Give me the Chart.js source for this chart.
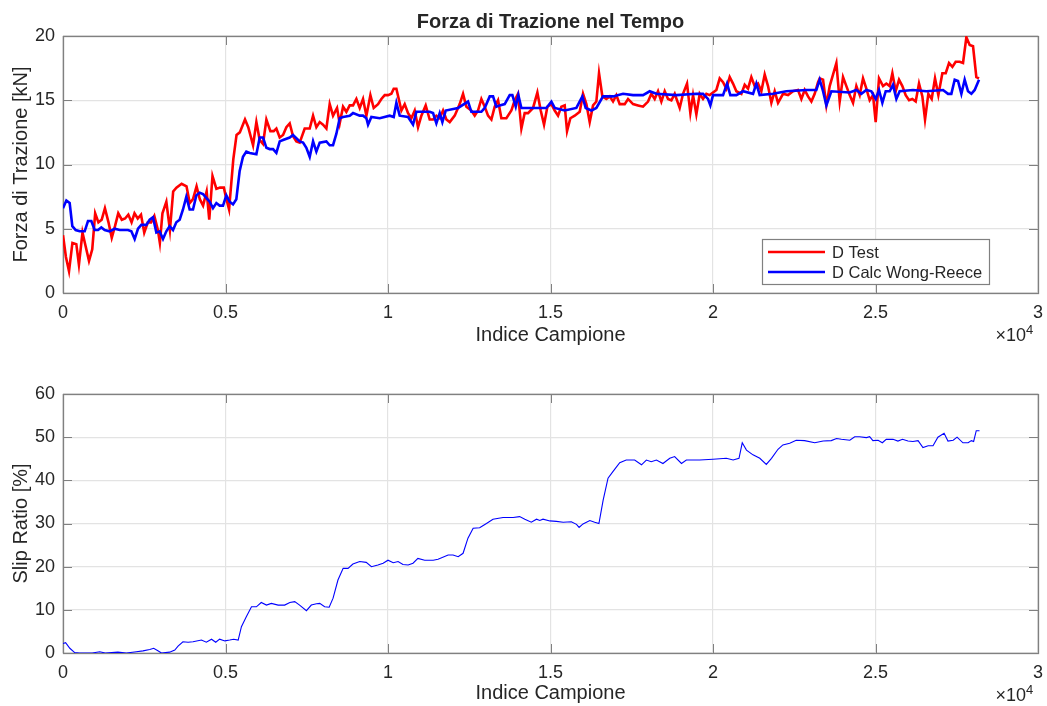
<!DOCTYPE html>
<html>
<head>
<meta charset="utf-8">
<title>Forza di Trazione nel Tempo</title>
<script src="https://cdn.jsdelivr.net/npm/chart.js@4.4.1/dist/chart.umd.min.js"></script>
<style>
  body { margin: 0; background: #fff; }
  #wrap { position: relative; width: 1047px; height: 706px; }
  canvas { position: absolute; left: 0; }
  #forceChart { top: 0; }
  #slipChart { top: 353px; }
</style>
</head>
<body>
<div id="wrap">
  <canvas id="forceChart" width="1047" height="353"></canvas>
  <canvas id="slipChart" width="1047" height="353"></canvas>
</div>
<script>
// --- dati: forza di trazione misurata (D Test) ---
const testSamples = [0, 90, 185, 290, 410, 490, 600, 700, 800, 900, 990, 1090, 1190, 1290, 1400, 1500, 1600, 1700, 1810, 1910,
  2010, 2110, 2200, 2300, 2400, 2500, 2610, 2710, 2810, 2920, 2980, 3060, 3180, 3290, 3390, 3490, 3650, 3800, 3900, 4000,
  4110, 4210, 4310, 4420, 4500, 4600, 4720, 4830, 4950, 5010, 5110, 5240, 5340, 5440, 5600, 5700, 5848, 5950, 6053, 6155,
  6258, 6381, 6483, 6565, 6668, 6771, 6873, 6976, 7078, 7181, 7283, 7437, 7591, 7694, 7796, 7899, 8001, 8104, 8206, 8309,
  8432, 8514, 8617, 8719, 8822, 8924, 9027, 9130, 9232, 9335, 9458, 9560, 9694, 9796, 9899, 10001, 10104, 10176, 10258, 10340,
  10412, 10514, 10617, 10719, 10822, 10924, 11027, 11160, 11283, 11386, 11488, 11591, 11694, 11796, 11899, 12053, 12206, 12309, 12411, 12565,
  12668, 12770, 12873, 12976, 13078, 13181, 13283, 13386, 13488, 13642, 13796, 13899, 14001, 14104, 14206, 14309, 14463, 14596, 14699, 14801,
  14904, 15027, 15129, 15232, 15334, 15437, 15509, 15611, 15745, 15899, 16001, 16104, 16206, 16309, 16411, 16493, 16596, 16719, 16822, 16924,
  17027, 17129, 17283, 17386, 17540, 17693, 17847, 18001, 18104, 18206, 18309, 18411, 18514, 18616, 18719, 18822, 18975, 19078, 19201, 19303,
  19386, 19488, 19591, 19693, 19796, 19898, 20001, 20104, 20206, 20309, 20411, 20514, 20616, 20719, 20873, 20975, 21078, 21180, 21283, 21386,
  21488, 21591, 21693, 21796, 21898, 22001, 22155, 22309, 22462, 22616, 22719, 22821, 22924, 23027, 23129, 23232, 23283, 23386, 23488, 23591,
  23796, 23898, 24001, 24104, 24206, 24309, 24411, 24514, 24616, 24719, 24821, 24924, 25006, 25108, 25232, 25334, 25437, 25519, 25621, 25724,
  25826, 25929, 26032, 26134, 26237, 26339, 26442, 26524, 26626, 26729, 26831, 26934, 27057, 27160, 27262, 27365, 27467, 27590, 27693, 27796,
  27898, 28001, 28103, 28185];
const testForce = [4.5, 2.8, 1.7, 3.9, 3.8, 2.2, 4.7, 3.6, 2.5, 3.4, 6.2, 5.5, 5.7, 6.6, 5.5, 4.3, 5.2, 6.2, 5.7, 5.8,
  6.1, 5.5, 6.2, 5.8, 6.1, 4.7, 5.5, 5.5, 6.0, 4.9, 3.9, 6.2, 7.1, 4.9, 7.9, 8.2, 8.5, 8.3, 7.0, 7.3,
  8.3, 7.3, 6.8, 7.9, 5.7, 9.1, 8.1, 8.2, 8.2, 7.5, 6.5, 10.4, 12.3, 12.5, 13.5, 12.9, 11.5, 13.3, 11.9, 11.6,
  13.5, 12.6, 12.6, 12.8, 12.1, 12.3, 12.9, 13.2, 12.2, 11.8, 11.7, 12.8, 12.8, 13.8, 12.9, 13.3, 13.1, 12.8, 14.7, 13.8,
  14.4, 13.2, 14.5, 14.1, 14.6, 14.6, 15.1, 14.4, 15.1, 13.8, 15.4, 14.4, 14.7, 15.1, 15.4, 15.4, 15.5, 15.9, 15.9, 15.0,
  14.2, 14.7, 14.0, 13.6, 14.2, 12.9, 13.8, 14.6, 13.5, 13.5, 13.8, 13.6, 14.2, 13.5, 13.3, 13.8, 14.7, 15.5, 14.5, 14.2,
  13.8, 14.2, 15.1, 14.5, 13.8, 13.5, 14.5, 15.0, 13.6, 13.6, 14.2, 15.0, 15.5, 12.8, 14.0, 14.0, 14.4, 15.6, 14.2, 13.1,
  14.5, 14.7, 14.2, 13.8, 14.5, 14.6, 12.6, 13.6, 13.8, 14.1, 15.5, 14.7, 13.3, 14.6, 14.9, 17.1, 15.3, 15.1, 15.3, 14.9,
  15.4, 14.7, 14.7, 15.1, 14.7, 14.6, 14.5, 14.9, 15.5, 15.1, 15.7, 14.9, 15.7, 15.1, 15.0, 15.5, 14.4, 15.5, 16.3, 14.0,
  15.4, 13.9, 15.5, 15.1, 15.5, 15.4, 15.6, 15.8, 16.7, 16.4, 15.9, 16.8, 16.3, 15.7, 15.5, 16.2, 15.9, 16.8, 16.1, 16.3,
  15.7, 17.0, 16.1, 14.8, 15.7, 14.8, 15.5, 15.4, 15.7, 15.8, 15.1, 15.8, 15.3, 14.9, 15.5, 16.4, 16.7, 16.6, 14.6, 16.1,
  17.9, 14.9, 16.8, 16.1, 15.4, 14.8, 16.1, 15.4, 16.7, 15.9, 15.0, 15.4, 13.3, 16.7, 16.1, 16.3, 16.1, 17.1, 15.7, 16.6,
  16.1, 15.4, 15.0, 15.1, 14.9, 16.3, 15.3, 13.5, 15.5, 15.1, 16.7, 15.4, 17.1, 17.1, 17.9, 17.6, 18.0, 18.0, 17.9, 19.9,
  19.3, 19.2, 16.8, 16.7];

// --- dati: forza calcolata con Wong-Reece ---
const calcSamples = [0, 103, 205, 287, 390, 513, 667, 769, 872, 974, 1077, 1179, 1282, 1436, 1590, 1744, 1897, 2000, 2103, 2205,
  2308, 2410, 2564, 2667, 2769, 2872, 2974, 3077, 3179, 3282, 3385, 3487, 3590, 3692, 3795, 3897, 4000, 4103, 4205, 4308,
  4410, 4513, 4615, 4718, 4820, 4923, 5026, 5128, 5231, 5333, 5436, 5538, 5641, 5745, 5950, 6053, 6155, 6258, 6360, 6463,
  6565, 6668, 6771, 6976, 7078, 7283, 7386, 7488, 7591, 7694, 7796, 7899, 8104, 8206, 8309, 8412, 8514, 8617, 8822, 8924,
  9130, 9232, 9335, 9386, 9488, 9745, 10053, 10176, 10258, 10360, 10617, 10770, 10873, 11283, 11386, 11488, 11591, 11673, 11776, 12155,
  12463, 12565, 12873, 12976, 13130, 13232, 13334, 13437, 13591, 13745, 13827, 13930, 14011, 14104, 14565, 14873, 15027, 15129, 15437, 15796,
  15980, 16083, 16258, 16411, 16616, 16924, 17232, 17540, 17847, 18052, 18258, 18873, 19488, 19693, 19847, 19919, 20001, 20309, 20432, 20534,
  20719, 20924, 21232, 21334, 21437, 21847, 22257, 22873, 23180, 23283, 23386, 23488, 23642, 24206, 24411, 24565, 24719, 24873, 25006, 25108,
  25211, 25314, 25437, 25539, 25642, 25744, 26155, 26565, 27078, 27232, 27334, 27437, 27539, 27642, 27744, 27847, 27950, 28052, 28185];
const calcForce = [6.6, 7.2, 7.0, 5.2, 4.9, 4.8, 4.8, 5.6, 5.6, 4.9, 4.9, 5.1, 4.9, 4.8, 5.0, 4.9, 4.9, 4.9, 4.8, 4.2,
  5.0, 5.3, 5.3, 5.7, 5.9, 4.7, 4.8, 4.2, 4.8, 5.2, 4.9, 5.5, 5.7, 6.5, 7.5, 6.5, 6.5, 7.6, 7.8, 7.7,
  7.4, 7.1, 6.6, 7.0, 6.8, 6.8, 7.6, 7.1, 6.9, 7.3, 9.5, 10.6, 11.0, 10.9, 10.8, 12.1, 12.1, 11.3, 11.2, 11.2,
  10.9, 11.8, 11.9, 12.1, 12.3, 11.8, 11.7, 11.3, 10.6, 11.8, 11.0, 11.7, 11.8, 11.5, 11.5, 12.4, 13.6, 13.7, 13.8, 14.0,
  13.8, 13.8, 13.6, 13.1, 13.7, 13.6, 13.8, 13.7, 14.8, 13.8, 13.7, 13.1, 14.1, 14.1, 14.0, 13.2, 14.0, 13.3, 14.2, 14.4,
  14.9, 14.1, 14.1, 14.4, 15.3, 15.3, 14.5, 14.6, 14.7, 15.4, 15.4, 14.5, 15.4, 14.4, 14.4, 14.4, 14.9, 14.4, 14.2, 14.4,
  15.3, 14.4, 14.2, 14.4, 15.3, 15.3, 15.5, 15.4, 15.4, 15.7, 15.5, 15.4, 15.5, 15.5, 15.1, 14.6, 15.4, 15.4, 16.3, 15.4,
  15.4, 15.7, 15.5, 16.3, 15.4, 15.5, 15.7, 15.8, 15.8, 16.6, 15.7, 14.6, 15.7, 15.6, 15.8, 15.5, 15.8, 15.7, 15.1, 15.8,
  14.8, 15.7, 15.7, 16.2, 15.1, 15.7, 15.8, 15.7, 15.8, 15.5, 15.5, 16.6, 16.5, 15.5, 16.6, 15.7, 15.5, 15.8, 16.6];

// --- dati: slip ratio ---
const slipSamples = [0, 80, 210, 360, 500, 900, 1130, 1300, 1690, 1950, 2260, 2460, 2670, 2790, 2920, 3030, 3280, 3440, 3540, 3690,
  3850, 4000, 4260, 4410, 4570, 4700, 4820, 4980, 5130, 5250, 5390, 5490, 5640, 5800, 5950, 6100, 6260, 6410, 6620, 6820,
  6980, 7130, 7280, 7490, 7640, 7800, 7900, 8050, 8190, 8310, 8460, 8620, 8770, 8920, 9130, 9330, 9490, 9690, 9850, 10000,
  10160, 10310, 10460, 10620, 10770, 10920, 11130, 11390, 11540, 11850, 12000, 12160, 12310, 12460, 12620, 12820, 13030, 13230, 13540, 13850,
  14050, 14210, 14410, 14570, 14670, 14770, 14980, 15180, 15390, 15640, 15800, 15880, 16000, 16210, 16360, 16490, 16620, 16770, 16920, 17130,
  17330, 17590, 17800, 17950, 18100, 18260, 18460, 18670, 18820, 19030, 19180, 19590, 20000, 20410, 20620, 20800, 20900, 21030, 21230, 21440,
  21640, 21800, 22000, 22150, 22360, 22560, 22820, 23130, 23390, 23640, 23800, 23950, 24210, 24360, 24510, 24720, 24820, 24920, 25080, 25210,
  25330, 25540, 25690, 25830, 26000, 26150, 26310, 26460, 26620, 26770, 26920, 27110, 27230, 27390, 27510, 27690, 27850, 27950, 28020, 28100,
  28200];
const slipRatio = [2.2, 2.4, 1.1, 0.1, 0, 0, 0.3, 0, 0.2, 0, 0.3, 0.5, 0.8, 1.1, 0.5, 0, 0.2, 0.7, 1.6, 2.6,
  2.5, 2.6, 3.0, 2.5, 3.2, 2.5, 3.2, 2.8, 3.0, 3.2, 3.0, 6.1, 8.4, 10.7, 10.7, 11.7, 11.1, 11.5, 11.1, 11.1,
  11.7, 11.9, 11.1, 9.8, 11.1, 11.4, 11.5, 10.7, 10.6, 12.7, 16.9, 19.6, 19.6, 20.6, 21.2, 21.0, 20.0, 20.4, 20.8, 21.5,
  20.9, 21.2, 20.5, 20.4, 20.8, 21.9, 21.5, 21.5, 21.7, 22.7, 22.7, 22.3, 23.1, 26.6, 28.9, 29.0, 30.0, 31.0, 31.4, 31.4,
  31.6, 31.0, 30.3, 31.0, 30.7, 31.0, 30.6, 30.5, 30.3, 30.4, 29.8, 29.1, 29.9, 30.7, 30.3, 30.0, 35.4, 40.5, 42.0, 44.1,
  44.7, 44.7, 43.6, 44.7, 44.3, 44.7, 43.9, 45.1, 45.5, 43.9, 44.7, 44.7, 44.9, 45.1, 44.7, 45.1, 48.7, 47.0, 45.9, 45.1,
  43.7, 45.1, 47.2, 48.2, 48.6, 49.3, 49.2, 48.7, 49.1, 49.2, 49.7, 49.5, 49.3, 50.1, 50.1, 49.9, 50.1, 49.2, 49.3, 48.7,
  49.5, 49.5, 49.1, 49.5, 49.1, 49.0, 49.2, 47.6, 48.0, 48.0, 50.0, 50.9, 49.1, 49.3, 50.0, 48.7, 48.7, 49.2, 49.0, 51.5,
  51.5];

// tick degli assi
const xTicks = [0, 5000, 10000, 15000, 20000, 25000, 30000];
const forceTicks = [0, 5, 10, 15, 20];
const slipTicks = [0, 10, 20, 30, 40, 50, 60];

const FONT = '"Liberation Sans", Arial, Helvetica, sans-serif';
const TEXT_COLOR = '#262626';
const AXIS_COLOR = '#808080';
const GRID_COLOR = '#e3e3e3';
const TICK_LEN = 9;

function toPoints(xs, ys) {
  return xs.map((x, i) => ({ x: x, y: ys[i] }));
}

// box, tacche interne, titolo, legenda ed esponente stile MATLAB
const matlabAxes = {
  id: 'matlabAxes',
  beforeDatasetsDraw(chart) {
    const { ctx, chartArea: a, scales: { x, y } } = chart;
    ctx.save();
    ctx.strokeStyle = AXIS_COLOR;
    ctx.lineWidth = 1;
    ctx.beginPath();
    x.ticks.forEach(t => {
      const px = Math.round(x.getPixelForValue(t.value)) + 0.5;
      ctx.moveTo(px, a.bottom); ctx.lineTo(px, a.bottom - TICK_LEN);
      ctx.moveTo(px, a.top); ctx.lineTo(px, a.top + TICK_LEN);
    });
    y.ticks.forEach(t => {
      const py = Math.round(y.getPixelForValue(t.value)) + 0.5;
      ctx.moveTo(a.left, py); ctx.lineTo(a.left + TICK_LEN, py);
      ctx.moveTo(a.right, py); ctx.lineTo(a.right - TICK_LEN, py);
    });
    ctx.stroke();
    ctx.lineWidth = 1.3;
    ctx.strokeRect(a.left + 0.5, a.top + 0.5, a.right - a.left, a.bottom - a.top);
    ctx.restore();
  },
  afterDraw(chart, args, opts) {
    const { ctx, chartArea: a } = chart;
    ctx.save();
    ctx.fillStyle = TEXT_COLOR;

    if (opts.title) {
      ctx.font = 'bold 20px ' + FONT;
      ctx.textAlign = 'center';
      ctx.textBaseline = 'middle';
      ctx.fillText(opts.title, (a.left + a.right) / 2, 22);
    }

    // moltiplicatore asse x
    ctx.textBaseline = 'middle';
    ctx.textAlign = 'right';
    ctx.font = '18px ' + FONT;
    const ey = a.bottom + 43;
    ctx.fillText('×10', a.right - 12, ey);
    ctx.textAlign = 'left';
    ctx.font = '13px ' + FONT;
    ctx.fillText('4', a.right - 12, ey - 6);

    if (opts.legend) {
      const bx = a.right - 276, by = a.bottom - 54, bw = 227, bh = 45;
      ctx.fillStyle = '#fff';
      ctx.fillRect(bx, by, bw, bh);
      ctx.strokeStyle = AXIS_COLOR;
      ctx.lineWidth = 1.2;
      ctx.strokeRect(bx + 0.5, by + 0.5, bw, bh);
      ctx.font = '16.5px ' + FONT;
      ctx.textAlign = 'left';
      ctx.textBaseline = 'middle';
      const items = [chart.data.datasets[1], chart.data.datasets[0]];
      items.forEach((ds, i) => {
        const ly = by + 13 + i * 20;
        ctx.strokeStyle = ds.borderColor;
        ctx.lineWidth = ds.borderWidth;
        ctx.beginPath();
        ctx.moveTo(bx + 6, ly); ctx.lineTo(bx + 63, ly);
        ctx.stroke();
        ctx.fillStyle = TEXT_COLOR;
        ctx.fillText(ds.label, bx + 70, ly + 1);
      });
    }
    ctx.restore();
  }
};

function xScale(axisHeight, titlePad) {
  return {
    type: 'linear',
    min: 0,
    max: 30000,
    afterBuildTicks: s => { s.ticks = xTicks.map(v => ({ value: v })); },
    afterFit: s => {
      s.height = axisHeight;
      // l'etichetta "3" può sporgere: l'area del grafico resta fissa
      s.paddingLeft = 0;
      s.paddingRight = 0;
    },
    grid: { color: GRID_COLOR, lineWidth: 1.2, drawTicks: false },
    border: { display: false },
    ticks: {
      color: TEXT_COLOR,
      font: { family: FONT, size: 18 },
      padding: 9,
      maxRotation: 0,
      callback: v => String(v / 10000)
    },
    title: {
      display: true,
      text: 'Indice Campione',
      color: TEXT_COLOR,
      font: { family: FONT, size: 20 },
      padding: { top: 0, bottom: titlePad }
    }
  };
}

function yScale(max, ticks, label) {
  return {
    min: 0,
    max: max,
    afterBuildTicks: s => { s.ticks = ticks.map(v => ({ value: v })); },
    afterFit: s => { s.width = 63; },
    grid: { color: GRID_COLOR, lineWidth: 1.2, drawTicks: false },
    border: { display: false },
    ticks: {
      color: TEXT_COLOR,
      font: { family: FONT, size: 18 },
      padding: 8
    },
    title: {
      display: true,
      text: label,
      color: TEXT_COLOR,
      font: { family: FONT, size: 20 },
      padding: { top: 9, bottom: 0 }
    }
  };
}

const common = {
  responsive: false,
  animation: false,
  parsing: true,
  elements: { point: { radius: 0 }, line: { tension: 0 } },
  plugins: { legend: { display: false }, tooltip: { enabled: false } }
};

new Chart(document.getElementById('forceChart'), {
  type: 'line',
  data: {
    datasets: [
      {
        label: 'D Calc Wong-Reece',
        data: toPoints(calcSamples, calcForce),
        borderColor: '#0000ff',
        borderWidth: 2.6,
        order: 1
      },
      {
        label: 'D Test',
        data: toPoints(testSamples, testForce),
        borderColor: '#ff0000',
        borderWidth: 2.6,
        order: 2
      }
    ]
  },
  options: {
    ...common,
    layout: { padding: { top: 36, right: 9, bottom: 0, left: 0 } },
    scales: { x: xScale(60, 6), y: yScale(20, forceTicks, 'Forza di Trazione [kN]') },
    plugins: { ...common.plugins, matlabAxes: { title: 'Forza di Trazione nel Tempo', legend: true } }
  },
  plugins: [matlabAxes]
});

new Chart(document.getElementById('slipChart'), {
  type: 'line',
  data: {
    datasets: [{
      label: 'Slip Ratio',
      data: toPoints(slipSamples, slipRatio),
      borderColor: '#0000ff',
      borderWidth: 1.1
    }]
  },
  options: {
    ...common,
    layout: { padding: { top: 41, right: 9, bottom: 0, left: 0 } },
    scales: { x: xScale(53, 1), y: yScale(60, slipTicks, 'Slip Ratio [%]') },
    plugins: { ...common.plugins, matlabAxes: { title: null, legend: false } }
  },
  plugins: [matlabAxes]
});
</script>
</body>
</html>
